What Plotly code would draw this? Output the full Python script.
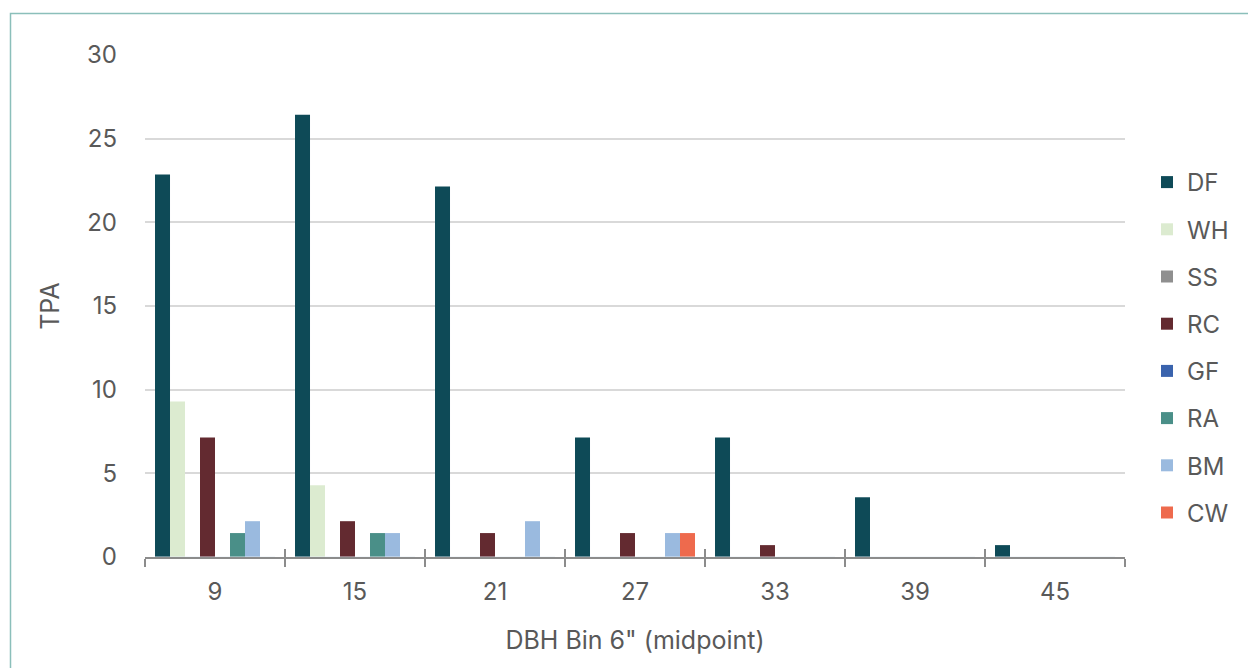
import plotly.graph_objects as go

# DBH bin midpoints (inches)
bins = ["9", "15", "21", "27", "33", "39", "45"]

# Trees per acre by species and diameter bin
df_tpa = [22.86, 26.43, 22.14, 7.14, 7.14, 3.57, 0.71]
wh_tpa = [9.29, 4.29, 0, 0, 0, 0, 0]
ss_tpa = [0, 0, 0, 0, 0, 0, 0]
rc_tpa = [7.14, 2.14, 1.43, 1.43, 0.71, 0, 0]
gf_tpa = [0, 0, 0, 0, 0, 0, 0]
ra_tpa = [1.43, 1.43, 0, 0, 0, 0, 0]
bm_tpa = [2.14, 1.43, 2.14, 1.43, 0, 0, 0]
cw_tpa = [0, 0, 0, 1.43, 0, 0, 0]

species = ["DF", "WH", "SS", "RC", "GF", "RA", "BM", "CW"]
values = [df_tpa, wh_tpa, ss_tpa, rc_tpa, gf_tpa, ra_tpa, bm_tpa, cw_tpa]
colors = ["#0e4a57", "#dcebd0", "#8f8f8f", "#632a30",
          "#3a63ad", "#4a8f88", "#9abadf", "#ee6a4d"]

FONT = "Inter"
TXT = "#595959"
FS = 24

fig = go.Figure()
for name, vals, col in zip(species, values, colors):
    fig.add_trace(go.Bar(
        x=bins, y=vals, name=name, legendgroup=name,
        marker=dict(color=col, line=dict(width=0)),
    ))

W, H = 1248, 668
L, R, T, B = 145, 123, 55, 111
pw, ph = W - L - R, H - T - B

fig.update_layout(
    width=W, height=H,
    margin=dict(l=L, r=R, t=T, b=B),
    paper_bgcolor="white", plot_bgcolor="white",
    barmode="group", bargap=0.143, bargroupgap=0,
    font=dict(family=FONT, color=TXT, size=FS),
    showlegend=True,
    legend=dict(
        x=(1147 - L) / pw, y=(557 - 160) / ph, xanchor="left", yanchor="top",
        font=dict(size=FS, color=TXT), tracegroupgap=13,
        itemwidth=30, bgcolor="rgba(0,0,0,0)",
    ),
    xaxis=dict(
        type="category", showgrid=False,
        showline=True, linecolor="#8c8c8c", linewidth=1.5,
        ticks="outside", ticklen=8, tickcolor="#8c8c8c", tickwidth=1.5,
        tickson="boundaries", ticklabelstandoff=12,
        tickfont=dict(size=FS, color=TXT),
        title=dict(text='DBH Bin 6" (midpoint)', font=dict(size=FS + 1, color=TXT), standoff=27),
    ),
    xaxis2=dict(
        type="category", overlaying="x", matches="x", side="bottom",
        showgrid=False, showline=False, showticklabels=False,
        ticks="inside", ticklen=8, tickcolor="#8c8c8c", tickwidth=1.5,
        tickson="boundaries",
    ),
    yaxis=dict(
        range=[0, 30], tickvals=[0, 5, 10, 15, 20, 25, 30],
        showgrid=True, gridcolor="#d9d9d9", gridwidth=1.5,
        zeroline=False, showline=False,
        ticks="", ticklabelstandoff=27,
        tickfont=dict(size=FS, color=TXT),
        title=dict(text="TPA", font=dict(size=FS + 1, color=TXT), standoff=20),
    ),
)

# invisible trace to carry the inward tick marks of the overlay axis
fig.add_trace(go.Bar(x=bins, y=[0] * len(bins), xaxis="x2", showlegend=False,
                     hoverinfo="skip", marker=dict(color="rgba(0,0,0,0)")))

# outer chart frame
fig.add_shape(type="rect", xref="paper", yref="paper",
              x0=(10.5 - L) / pw, x1=(W + 20 - L) / pw,
              y0=(557 - (H + 20)) / ph, y1=(557 - 13.5) / ph,
              line=dict(color="#8bbfba", width=1.5), fillcolor="rgba(0,0,0,0)",
              layer="below")

fig.write_html("out.html")
